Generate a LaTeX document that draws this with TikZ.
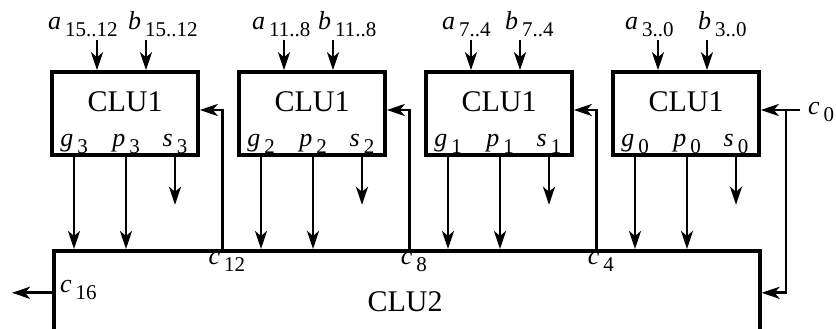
\documentclass[tikz,border=0pt]{standalone}
\usepackage{fontspec}
\setmainfont{Liberation Serif}
\usetikzlibrary{arrows.meta,positioning,calc}

% italic letter with a lowered index
\newcommand{\sig}[2]{\textit{#1}\kern4pt\raisebox{-7pt}{\fontsize{21}{21}\selectfont #2}}

\tikzset{
  clu/.style={draw, line width=3.6pt, minimum width=146pt, minimum height=83pt, inner sep=0pt},
  wire/.style={line width=2.8pt, -{Stealth[length=18pt,width=12pt,inset=5pt]}},
  lbl/.style={font=\fontsize{26}{30}\selectfont, inner sep=0pt},
  big/.style={font=\fontsize{30}{36}\selectfont, inner sep=0pt}
}

\begin{document}
\begin{tikzpicture}[x=1pt,y=1pt]
\useasboundingbox (0,0) rectangle (836,329);
\clip (0,0) rectangle (836,329);

% the CLU2 block (runs off the bottom)
\node[clu, minimum width=706pt, minimum height=120pt, anchor=north west] (clu2) at (52,80) {};
\node[big, anchor=base] (clu2txt) at (405,17) {CLU2};

% the four CLU1 blocks
\foreach \k/\cx/\hi/\lo/\ax/\bx in {3/125/15/12/48/128, 2/312/11/8/252/318,
                                    1/499/7/4/442/505, 0/686/3/0/625/698}{
  \node[clu] (u\k) at (\cx,215.5) {};
  \node[big, anchor=base] (t\k) at (\cx,217) {CLU1};

  % operand inputs
  \node[lbl, anchor=base west] (a\k) at (\ax,299) {\sig{a}{\hi..\lo}};
  \node[lbl, anchor=base west] (b\k) at (\bx,299) {\sig{b}{\hi..\lo}};
  \draw[wire] ($(u\k.north)+(-28,30)$) -- ($(u\k.north)+(-28,0)$);
  \draw[wire] ($(u\k.north)+(21,30)$) -- ($(u\k.north)+(21,0)$);

  % g, p go down to CLU2, s leaves the block
  \node[lbl, anchor=base] (g\k) at ($(u\k.south)+(-51,10)$) {\sig{g}{\k}};
  \node[lbl, anchor=base] (p\k) at ($(u\k.south)+(1,10)$) {\sig{p}{\k}};
  \node[lbl, anchor=base] (s\k) at ($(u\k.south)+(50,10)$) {\sig{s}{\k}};
  \draw[wire] ([xshift=-51pt]u\k.south) -- ([xshift=-51pt]u\k.south |- clu2.north);
  \draw[wire] ([xshift=1pt]u\k.south) -- ([xshift=1pt]u\k.south |- clu2.north);
  \draw[wire] ([xshift=50pt]u\k.south) -- ++(0,-48);
}

% carries from CLU2 back up into the blocks
\foreach \k/\c in {3/12, 2/8, 1/4}{
  \coordinate (co\k) at ([xshift=23pt]u\k.east |- clu2.north);
  \node[lbl, anchor=base] (c\c) at ($(co\k)+(4,-16)$) {\sig{c}{\c}};
  \draw[wire] (co\k) |- ([yshift=3.5pt]u\k.east);
}

% carry in
\node[lbl, anchor=base west] (c0) at (808,214) {\sig{c}{0}};
\coordinate (cin) at (800,219);
\coordinate (tap) at (786,219);
\draw[wire] (cin) -- (cin -| u0.east);
\draw[wire] (tap) |- ([yshift=18pt]clu2.east);

% carry out
\node[lbl, anchor=base west] (c16) at (60,36) {\sig{c}{16}};
\draw[wire] ([yshift=18pt]clu2.west) -- ++(-40,0);

\end{tikzpicture}
\end{document}
